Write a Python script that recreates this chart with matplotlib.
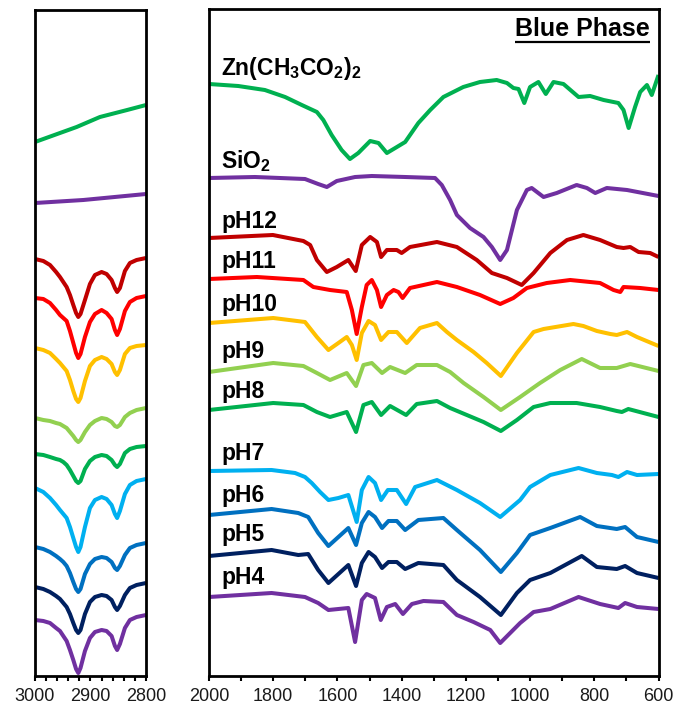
import numpy as np
import matplotlib
matplotlib.use('Agg')
import matplotlib.pyplot as plt
from matplotlib.ticker import MultipleLocator, FixedLocator

plt.rcParams['font.family'] = ['Liberation Sans', 'DejaVu Sans']
plt.rcParams['mathtext.fontset'] = 'custom'
plt.rcParams['mathtext.rm'] = 'Liberation Sans:bold'
plt.rcParams['mathtext.bf'] = 'Liberation Sans:bold'
plt.rcParams['mathtext.default'] = 'rm'

# ---------------- data (stacked, offset transmittance in a.u.; larger = lower on plot) -------------
# Right panel: 2000-600 cm-1
zn_wn = [2000, 1909, 1826, 1763, 1711, 1664, 1644, 1618, 1587, 1561, 1535, 1498, 1472, 1446, 1420, 1389, 1348, 1311, 1270, 1208,
         1156, 1104, 1072, 1052, 1036, 1018, 1000, 974, 951, 927, 896, 849, 813, 771, 725, 709, 693, 673, 657, 636, 621, 600]
zn_t = [84, 86, 90, 97, 105, 112, 120, 135, 150, 159, 153, 141, 143, 153, 148, 142, 123, 110, 97, 87,
        82, 80, 83, 88, 89, 103, 87, 82, 94, 82, 84, 97, 96, 100, 103, 110, 128, 107, 92, 85, 95, 75]

sio2_wn = [2000, 1857, 1701, 1660, 1633, 1602, 1545, 1493, 1389, 1296, 1275, 1249, 1228, 1187, 1145, 1119, 1093, 1072, 1041, 1010,
           995, 958, 917, 855, 823, 797, 761, 698, 600]
sio2_t = [178, 177, 179, 184, 187, 181, 177, 176, 177, 178, 185, 200, 215, 228, 237, 247, 260, 250, 210, 190,
          188, 197, 193, 185, 188, 193, 188, 190, 196]

ph12_wn = [2000, 1801, 1706, 1685, 1664, 1633, 1602, 1566, 1543, 1524, 1498, 1477, 1464, 1446, 1415, 1400, 1374, 1290, 1228, 1166,
           1119, 1072, 1026, 989, 937, 885, 834, 782, 730, 709, 688, 662, 626, 600]
ph12_t = [238, 235, 241, 245, 260, 272, 267, 260, 271, 245, 237, 242, 257, 250, 250, 253, 247, 242, 247, 260,
          273, 278, 285, 273, 253, 240, 235, 240, 247, 248, 247, 252, 253, 257]

ph11_wn = [2000, 1851, 1706, 1675, 1623, 1571, 1555, 1540, 1524, 1509, 1493, 1477, 1464, 1446, 1425, 1410, 1397, 1374, 1290, 1228,
           1156, 1093, 1052, 1010, 948, 875, 782, 740, 719, 709, 657, 600]
ph11_t = [279, 277, 280, 287, 290, 292, 310, 334, 307, 285, 280, 290, 307, 295, 290, 292, 298, 288, 282, 287,
          295, 304, 298, 288, 283, 280, 283, 290, 292, 287, 288, 290]

ph10_wn = [2000, 1800, 1701, 1664, 1628, 1597, 1571, 1555, 1540, 1524, 1503, 1483, 1464, 1441, 1415, 1384, 1343, 1290, 1259, 1228,
           1176, 1135, 1091, 1041, 989, 958, 865, 834, 792, 750, 730, 698, 667, 600]
ph10_t = [323, 318, 322, 337, 350, 343, 337, 345, 360, 333, 321, 325, 340, 332, 332, 343, 328, 323, 332, 340,
          352, 363, 376, 353, 332, 329, 324, 326, 331, 334, 335, 332, 337, 346]

ph9_wn = [2000, 1800, 1706, 1664, 1623, 1571, 1542, 1519, 1493, 1461, 1436, 1389, 1353, 1290, 1249, 1207, 1145, 1091, 1031, 969,
          906, 839, 782, 730, 688, 600]
ph9_t = [372, 363, 366, 373, 380, 373, 386, 365, 363, 373, 367, 373, 365, 365, 372, 383, 397, 410, 397, 383,
         370, 359, 368, 368, 364, 371]

ph8_wn = [2000, 1800, 1706, 1664, 1623, 1571, 1542, 1519, 1493, 1464, 1436, 1386, 1353, 1290, 1249, 1197, 1145, 1091, 1041, 989,
          937, 855, 782, 730, 714, 694, 600]
ph8_t = [410, 403, 405, 412, 417, 412, 432, 405, 402, 415, 406, 415, 404, 401, 408, 415, 422, 431, 420, 407,
         403, 403, 407, 411, 412, 409, 417]

ph7_wn = [2000, 1805, 1732, 1701, 1680, 1654, 1628, 1597, 1566, 1540, 1524, 1503, 1483, 1464, 1443, 1415, 1386, 1358, 1290, 1228,
          1156, 1093, 1031, 1000, 937, 849, 792, 745, 725, 698, 667, 600]
ph7_t = [471, 470, 473, 477, 483, 492, 500, 498, 495, 522, 490, 477, 483, 500, 490, 490, 504, 487, 480, 490,
         503, 517, 500, 487, 475, 468, 473, 475, 477, 472, 475, 474]

ph6_wn = [2000, 1805, 1722, 1691, 1660, 1628, 1597, 1566, 1542, 1524, 1503, 1483, 1461, 1441, 1415, 1389, 1348, 1270, 1228, 1156,
          1091, 1041, 1000, 937, 844, 792, 730, 704, 667, 600]
ph6_t = [515, 509, 513, 517, 533, 546, 537, 528, 545, 523, 512, 517, 528, 521, 521, 530, 520, 518, 530, 550,
         572, 553, 535, 528, 517, 526, 529, 527, 537, 542]

ph5_wn = [2000, 1805, 1722, 1691, 1660, 1628, 1597, 1566, 1542, 1524, 1503, 1483, 1461, 1441, 1415, 1389, 1348, 1270, 1228, 1156,
          1091, 1041, 1000, 937, 839, 792, 730, 704, 667, 600]
ph5_t = [556, 550, 555, 554, 570, 583, 574, 565, 586, 563, 552, 557, 568, 562, 562, 569, 563, 565, 580, 597,
         615, 593, 580, 573, 556, 567, 569, 566, 573, 578]

ph4_wn = [2000, 1805, 1701, 1660, 1628, 1566, 1545, 1524, 1509, 1483, 1465, 1446, 1420, 1396, 1368, 1332, 1270, 1228, 1176, 1124,
          1093, 1031, 989, 937, 849, 782, 725, 704, 667, 600]
ph4_t = [597, 593, 597, 603, 610, 608, 642, 600, 594, 598, 620, 607, 604, 614, 604, 601, 602, 615, 622, 630,
         643, 623, 612, 609, 597, 604, 608, 603, 607, 609]

# Left panel: 3000-2800 cm-1
zn_ch_wn = [3000, 2925, 2883, 2834, 2800]
zn_ch_t = [142, 127, 117, 110, 105]
sio2_ch_wn = [3000, 2913, 2800]
sio2_ch_t = [203, 200, 194]
ch_wn = [3000, 2985, 2973, 2962, 2955, 2949, 2943, 2937, 2931, 2926, 2922, 2918, 2910, 2901, 2892, 2880, 2871, 2862, 2856, 2852,
         2847, 2838, 2829, 2817, 2800]
ph12_ch = [259, 261, 265, 272, 277, 282, 287, 295, 305, 313, 317, 314, 300, 284, 275, 272, 274, 280, 288, 292, 288, 271, 263, 260, 258]
ph11_ch = [298, 299, 303, 310, 315, 318, 321, 331, 343, 353, 358, 354, 337, 322, 314, 310, 313, 319, 330, 335, 329, 311, 302, 298, 296]
ph10_ch = [348, 350, 353, 359, 363, 367, 371, 380, 391, 399, 402, 398, 381, 366, 360, 357, 359, 364, 372, 375, 370, 354, 348, 346, 345]
ph9_ch = [418, 420, 421, 423, 424, 426, 428, 432, 436, 440, 442, 440, 432, 425, 421, 418, 419, 422, 426, 427, 425, 417, 413, 410, 408]
ph8_ch = [454, 455, 457, 459, 460, 462, 465, 470, 476, 481, 483, 481, 469, 461, 457, 455, 456, 460, 465, 467, 464, 453, 449, 447, 446]
ph7_ch = [488, 492, 498, 505, 510, 514, 518, 527, 538, 547, 552, 547, 527, 508, 500, 497, 499, 505, 514, 518, 511, 494, 485, 481, 479]
ph6_ch = [547, 549, 552, 556, 559, 562, 566, 573, 582, 589, 592, 589, 574, 564, 559, 557, 558, 562, 568, 570, 566, 555, 548, 545, 543]
ph5_ch = [587, 589, 592, 596, 599, 603, 607, 614, 623, 630, 633, 630, 614, 602, 597, 595, 596, 600, 607, 610, 606, 595, 588, 585, 583]
ph4_ch = [620, 621, 623, 628, 631, 636, 641, 650, 660, 669, 673, 668, 651, 638, 632, 630, 631, 636, 646, 650, 644, 628, 620, 617, 615]

labels = [r'Zn(CH$_3$CO$_2$)$_2$', r'SiO$_2$', 'pH12', 'pH11', 'pH10', 'pH9', 'pH8', 'pH7', 'pH6', 'pH5', 'pH4']
label_t = [75, 168, 228, 268, 311, 358, 398, 460, 502, 541, 584]
colors = ['#00B050', '#7030A0', '#C00000', '#FF0000', '#FFC000', '#92D050', '#00B050',
          '#00B0F0', '#0070C0', '#002060', '#7030A0']

right_series = [(zn_wn, zn_t), (sio2_wn, sio2_t), (ph12_wn, ph12_t), (ph11_wn, ph11_t), (ph10_wn, ph10_t),
                (ph9_wn, ph9_t), (ph8_wn, ph8_t), (ph7_wn, ph7_t), (ph6_wn, ph6_t), (ph5_wn, ph5_t), (ph4_wn, ph4_t)]
left_series = [(zn_ch_wn, zn_ch_t), (sio2_ch_wn, sio2_ch_t), (ch_wn, ph12_ch), (ch_wn, ph11_ch), (ch_wn, ph10_ch),
               (ch_wn, ph9_ch), (ch_wn, ph8_ch), (ch_wn, ph7_ch), (ch_wn, ph6_ch), (ch_wn, ph5_ch), (ch_wn, ph4_ch)]

# ---------------- figure -------------
W, H = 678, 713
fig = plt.figure(figsize=(W / 100, H / 100), dpi=100)
axL = fig.add_axes([35 / W, 1 - 676 / H, 111 / W, 666 / H])
axR = fig.add_axes([209 / W, 1 - 676 / H, 449.5 / W, 667 / H])

lw = 2.9
for (x, y), c in zip(right_series, colors):
    axR.plot(x, y, color=c, lw=lw, solid_joinstyle='round', solid_capstyle='butt')
for (x, y), c in zip(left_series, colors):
    axL.plot(x, y, color=c, lw=lw, solid_joinstyle='round', solid_capstyle='butt')

axR.set_xlim(2000, 600)
axR.set_ylim(676, 9)
axL.set_xlim(3000, 2800)
axL.set_ylim(676, 10)

axR.xaxis.set_major_locator(FixedLocator([2000, 1800, 1600, 1400, 1200, 1000, 800, 600]))
axR.xaxis.set_minor_locator(MultipleLocator(100))
axL.xaxis.set_major_locator(FixedLocator([3000, 2900, 2800]))
axL.xaxis.set_minor_locator(MultipleLocator(20))

for ax in (axL, axR):
    ax.set_yticks([])
    for s in ax.spines.values():
        s.set_linewidth(2.0)
        s.set_color('black')
    ax.tick_params(axis='x', which='both', direction='out', length=3.8, width=1.5,
                   color='black', labelsize=13, pad=5, labelcolor='#1a1a1a')

for lab, yt in zip(labels, label_t):
    axR.text(1962, yt, lab, fontsize=16.5, fontweight='bold', ha='left', va='baseline', color='black')

bp = axR.text(626, 36, 'Blue Phase', fontsize=18, fontweight='bold', ha='right', va='baseline', color='black')
fig.canvas.draw()
bb = bp.get_window_extent(renderer=fig.canvas.get_renderer())
inv = axR.transData.inverted()
x0 = inv.transform((bb.x0, 0))[0]
x1 = inv.transform((bb.x1, 0))[0]
axR.plot([x0, x1], [41.5, 41.5], color='black', lw=1.6, solid_capstyle='butt')

fig.savefig('out.png', dpi=100)
